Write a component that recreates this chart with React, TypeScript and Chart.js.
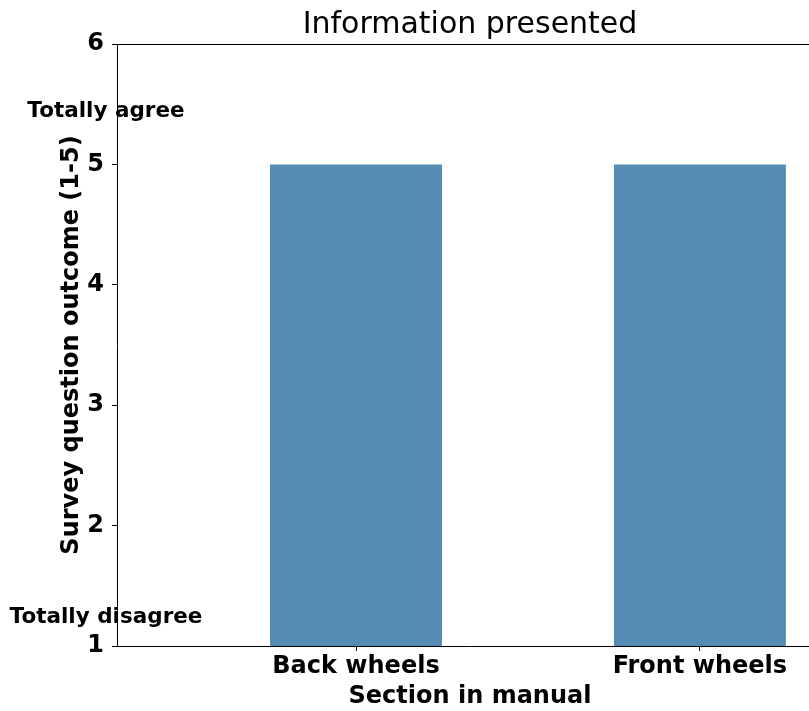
import React, { useEffect, useRef } from "react";
import { Chart, registerables } from "chart.js";

Chart.register(...registerables);

const TITLE = "Information presented";
const CATEGORIES = ["Back wheels", "Front wheels"];
const SCORES = [5, 5];
const Y_MIN = 1;
const Y_MAX = 6;
const X_MIN = -0.695;
const X_MAX = 1.358;
const ANNOTATION_LABELS = ["Totally agree", "Totally disagree"];
const ANNOTATION_Y = [5.44, 1.24];
const ANNOTATION_X = -0.727;
const X_TITLE = "Section in manual";
const Y_TITLE = "Survey question outcome (1-5)";

const FONT = "'DejaVu Sans', sans-serif";
const BAR_COLOR = "rgb(84,139,179)";

const extrasPlugin = {
  id: "extras",
  afterDraw(chart: any) {
    const { ctx, chartArea, scales } = chart;
    ctx.save();
    // top spine
    ctx.strokeStyle = "#000";
    ctx.lineWidth = 1;
    ctx.beginPath();
    ctx.moveTo(chartArea.left, chartArea.top + 0.5);
    ctx.lineTo(chartArea.right, chartArea.top + 0.5);
    ctx.stroke();
    // title
    ctx.fillStyle = "#000";
    ctx.font = `normal 30px ${FONT}`;
    ctx.textAlign = "center";
    ctx.textBaseline = "middle";
    ctx.fillText(TITLE, (chartArea.left + chartArea.right) / 2, 25);
    // annotations
    ctx.font = `bold 21.5px ${FONT}`;
    ANNOTATION_LABELS.forEach((t, i) => {
      ctx.fillText(
        t,
        scales.x.getPixelForValue(ANNOTATION_X),
        scales.y.getPixelForValue(ANNOTATION_Y[i])
      );
    });
    ctx.restore();
  },
};

export default function App() {
  const ref = useRef<HTMLCanvasElement | null>(null);
  useEffect(() => {
    if (!ref.current) return;
    const chart = new Chart(ref.current, {
      type: "bar",
      data: {
        datasets: [
          {
            data: CATEGORIES.map((_, i) => ({ x: i, y: SCORES[i] })),
            backgroundColor: BAR_COLOR,
            borderWidth: 0,
            barPercentage: 0.5,
            categoryPercentage: 1,
          },
        ],
      },
      options: {
        animation: false,
        responsive: false,
        layout: { padding: { top: 44, right: 17, left: 0, bottom: 0 } },
        plugins: {
          legend: { display: false },
          tooltip: { enabled: false },
          title: { display: false },
        },
        scales: {
          x: {
            type: "linear",
            offset: false,
            min: X_MIN,
            max: X_MAX,
            afterBuildTicks: (scale: any) => {
              scale.ticks = CATEGORIES.map((_, i) => ({ value: i }));
            },
            afterFit: (scale: any) => {
              scale.height = 65;
            },
            ticks: {
              autoSkip: false,
              maxRotation: 0,
              padding: 1,
              color: "#000",
              font: { family: FONT, size: 24, weight: "bold" },
              callback: (v: any) => CATEGORIES[Math.round(v)] ?? "",
            },
            grid: {
              display: true,
              offset: false,
              drawOnChartArea: false,
              drawTicks: true,
              tickLength: 5,
              color: "#000",
            },
            border: { display: true, color: "#000", width: 1 },
            title: {
              display: true,
              text: X_TITLE,
              color: "#000",
              font: { family: FONT, size: 24, weight: "bold" },
              padding: { top: 0, bottom: 0 },
            },
          },
          y: {
            min: Y_MIN,
            max: Y_MAX,
            afterFit: (scale: any) => {
              scale.width = 117;
            },
            ticks: {
              stepSize: 1,
              padding: 8,
              color: "#000",
              font: { family: FONT, size: 24, weight: "bold" },
            },
            grid: {
              display: true,
              drawOnChartArea: false,
              drawTicks: true,
              tickLength: 5,
              color: "#000",
            },
            border: { display: true, color: "#000", width: 1 },
            title: {
              display: true,
              text: Y_TITLE,
              color: "#000",
              font: { family: FONT, size: 24, weight: "bold" },
              padding: { top: 57, bottom: 0 },
            },
          },
        },
      },
      plugins: [extrasPlugin],
    });
    return () => chart.destroy();
  }, []);

  return (
    <div
      style={{
        position: "fixed",
        left: 0,
        top: 0,
        width: 809,
        height: 711,
        overflow: "hidden",
        background: "#fff",
      }}
    >
      <canvas
        ref={ref}
        width={840}
        height={711}
        style={{ width: 840, height: 711, display: "block" }}
      />
    </div>
  );
}
